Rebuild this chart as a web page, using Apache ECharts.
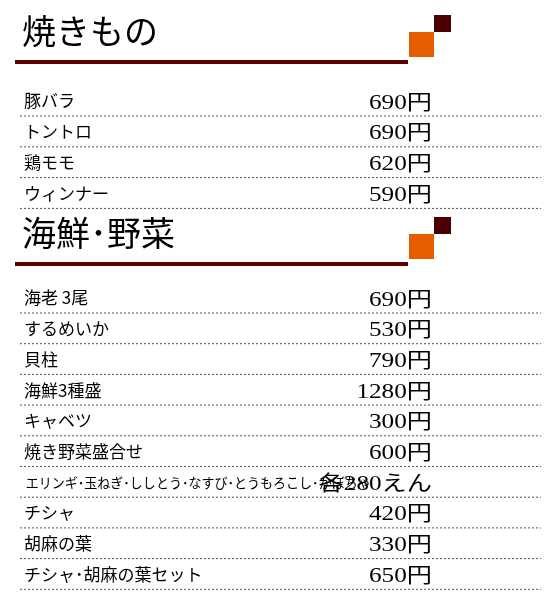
<!DOCTYPE html><html><head><meta charset="utf-8"><script src="https://cdn.jsdelivr.net/npm/echarts@6/dist/echarts.min.js"></script>
<style>html,body{margin:0;background:#fff}#c{width:555px;height:606px}</style></head><body><div id="c"></div><script>
const sectionTitles=['焼きもの','海鮮･野菜'];
const items1=['豚バラ','トントロ','鶏モモ','ウィンナー'];
const prices1=['690円','690円','620円','590円'];
const items2=['海老 3尾','するめいか','貝柱','海鮮3種盛','キャベツ','焼き野菜盛合せ','エリンギ･玉ねぎ･ししとう･なすび･とうもろこし･かぼちゃ','チシャ','胡麻の葉','チシャ･胡麻の葉セット'];
const prices2=['690円','530円','790円','1280円','300円','600円','各280えん','420円','330円','650円'];
const chart=echarts.init(document.getElementById('c'));
const g=[];
const font='"Noto Sans CJK JP"';
function header(t,y){
 g.push({type:'text',left:22,top:y-36,style:{text:t,font:'34px '+font,fill:'#000'}});
 g.push({type:'rect',shape:{x:15,y:y+10,width:393,height:4},style:{fill:'#5c0000'}});
 g.push({type:'rect',shape:{x:409,y:y-18,width:25,height:25},style:{fill:'#e85c00'}});
 g.push({type:'rect',shape:{x:434,y:y-35,width:17,height:17},style:{fill:'#4a0000'}});
}
function rows(items,prices,y0,pitch){
 items.forEach((it,i)=>{
  const y=y0+i*pitch;
  const small=it.length>20;
  g.push({type:'text',x:24,y:y,scaleX:small?0.93:1,originX:24,style:{text:it,font:(small?'14px ':'17px ')+font,fill:'#000',verticalAlign:'middle',textAlign:'left'}});
  g.push({type:'text',x:540,y:y+2,scaleX:1.2,originX:540,style:{text:prices[i],font:'21px "Liberation Serif", '+font,fill:'#000',verticalAlign:'middle',textAlign:'right'}});
  g.push({type:'line',shape:{x1:20,y1:y+15,x2:541,y2:y+15},style:{stroke:'#555',lineWidth:1,lineDash:[2,2]}});
 });
}
header(sectionTitles[0],50);
rows(items1,prices1,101,30.8);
header(sectionTitles[1],252);
rows(items2,prices2,298,30.7);
chart.setOption({graphic:g});
</script></body></html>
